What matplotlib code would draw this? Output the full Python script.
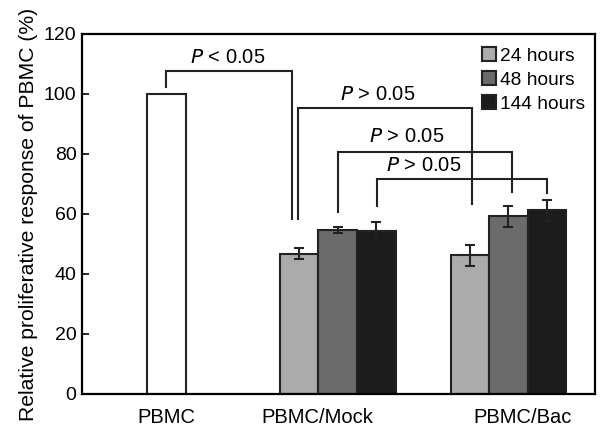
import matplotlib
matplotlib.use("Agg")
import matplotlib.pyplot as plt
import numpy as np

plt.rcParams['font.family'] = ['Liberation Sans', 'DejaVu Sans']

categories = ["PBMC", "PBMC/Mock", "PBMC/Bac"]
series = ["24 hours", "48 hours", "144 hours"]
pbmc_value = 100
mock_values = [46.7, 54.7, 54.2]
mock_err = [1.8, 1.0, 3.0]
bac_values = [46.3, 59.2, 61.2]
bac_err = [3.5, 3.5, 3.5]
yticks = [0, 20, 40, 60, 80, 100, 120]
pvals = ["P < 0.05", "P > 0.05", "P > 0.05", "P > 0.05"]

colors = ["#ababab", "#6b6b6b", "#1c1c1c"]

fig = plt.figure(figsize=(6, 4.32), dpi=100)
ax = fig.add_axes([0.1367, 0.088, 0.855, 0.8333])

w = 1.0
pbmc_x = 0.0
mock_c = 4.45
bac_c = 8.88
offs = [-1, 0, 1]

ax.bar([pbmc_x], [pbmc_value], width=w, color="white", edgecolor="#222222", linewidth=1.5)
for i in range(3):
    ax.bar(mock_c + offs[i], mock_values[i], width=w, color=colors[i], edgecolor="#222222",
           linewidth=1.5, label=series[i])
    ax.bar(bac_c + offs[i], bac_values[i], width=w, color=colors[i], edgecolor="#222222",
           linewidth=1.5)
    ax.errorbar(mock_c + offs[i], mock_values[i], yerr=mock_err[i], color="#222222",
                capsize=3.6, elinewidth=1.5, capthick=1.5, fmt='none')
    ax.errorbar(bac_c + offs[i], bac_values[i], yerr=bac_err[i], color="#222222",
                capsize=3.6, elinewidth=1.5, capthick=1.5, fmt='none')

def bracket(x1, x2, y, y1, y2):
    ax.plot([x1, x1, x2, x2], [y1, y, y, y2], color="#222222", lw=1.5, solid_joinstyle='miter')

# brackets
bracket(pbmc_x, mock_c - 1 - 0.19, 107.7, 102.3, 58.3)
bracket(mock_c - 1 - 0.03, bac_c - 1 + 0.06, 95.3, 58.3, 63.3)
bracket(mock_c, bac_c + 0.09, 80.8, 60.8, 67.2)
bracket(mock_c + 1.03, bac_c + 1.0, 71.7, 62.8, 66.9)

txt_pos = [(1.6, 112.0), (5.49, 99.7), (6.25, 85.7), (6.69, 76.0)]
for (tx, ty), s in zip(txt_pos, pvals):
    ax.text(tx, ty, "$\\it{P}$" + s[1:], ha="center", va="center", fontsize=14.5)

ax.set_xlim(-2.19, 11.13)
ax.set_ylim(0, 120)
ax.set_yticks(yticks)
ax.set_yticklabels([str(v) for v in yticks], fontsize=14)
ax.set_xticks([0.0, 3.91, 9.26])
ax.set_xticklabels(categories, fontsize=14.5)
ax.tick_params(axis='x', length=0, pad=10)
ax.tick_params(axis='y', direction='in', length=5, width=1.2, pad=4)
for s in ax.spines.values():
    s.set_linewidth(1.6)
ax.set_ylabel("Relative proliferative response of PBMC (%)", fontsize=15.2, labelpad=4)

ax.legend(loc="upper right", frameon=False, fontsize=13.8, handlelength=0.75, handleheight=0.75,
          handletextpad=0.2, labelspacing=0.33, borderaxespad=0.1, bbox_to_anchor=(1.0, 0.99))

fig.savefig("out.png", dpi=100)
